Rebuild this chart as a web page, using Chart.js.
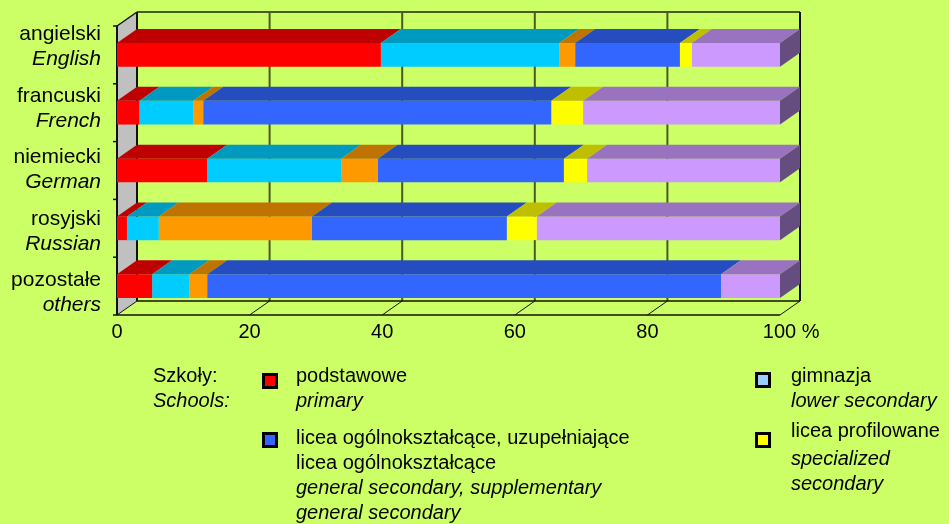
<!DOCTYPE html>
<html>
<head>
<meta charset="utf-8">
<script src="https://cdn.jsdelivr.net/npm/chart.js@4/dist/chart.umd.min.js"></script>
<style>
  html, body { margin: 0; padding: 0; background: #CCFF66; }
  #wrap { position: relative; width: 949px; height: 524px; }
</style>
</head>
<body>
<div id="wrap"><canvas id="langChart"></canvas></div>
<script>
// Languages (Polish / English)
const categoriesPl = ['angielski', 'francuski', 'niemiecki', 'rosyjski', 'pozostałe'];
const categoriesEn = ['English', 'French', 'German', 'Russian', 'others'];

// Share of pupils by school type, %
const primary = [39.8, 3.4, 13.6, 1.5, 5.3];
const lowerSecondary = [26.9, 8.1, 20.2, 4.8, 5.6];
const basicVocational = [2.4, 1.5, 5.5, 23.1, 2.7];
const generalSecondary = [15.8, 52.5, 28.1, 29.4, 77.5];
const specializedSecondary = [1.8, 4.8, 3.5, 4.5, 0];
const vocationalSecondary = [13.3, 29.7, 29.1, 36.7, 8.9];

const xTicks = [0, 20, 40, 60, 80, 100];

const FONT = '"Liberation Sans", Arial, sans-serif';
const DX = 20, DY = 14; // depth of the 3D box

function shade(hex, f) {
    const n = parseInt(hex.slice(1), 16);
    const r = Math.round(((n >> 16) & 255) * f);
    const g = Math.round(((n >> 8) & 255) * f);
    const b = Math.round((n & 255) * f);
    return `rgb(${r},${g},${b})`;
}

function line(ctx, x1, y1, x2, y2, color, w) {
    ctx.beginPath();
    ctx.moveTo(x1, y1);
    ctx.lineTo(x2, y2);
    ctx.strokeStyle = color;
    ctx.lineWidth = w;
    ctx.stroke();
}

const threeD = {
    id: 'threeD',
    beforeDatasetsDraw(chart) {
        const { ctx, chartArea: a, scales: { x, y } } = chart;
        const L = a.left, R = a.right, T = a.top, B = a.bottom;
        ctx.save();
        // left wall
        ctx.beginPath();
        ctx.moveTo(L, T);
        ctx.lineTo(L + DX, T - DY);
        ctx.lineTo(L + DX, B - DY);
        ctx.lineTo(L, B);
        ctx.closePath();
        ctx.fillStyle = '#C0C0C0';
        ctx.fill();
        // back wall grid
        xTicks.forEach(v => {
            if (v === 0 || v === 100) return;
            const px = x.getPixelForValue(v) + DX;
            line(ctx, px, T - DY, px, B - DY, '#4a5a22', 2);
        });
        line(ctx, L + DX, T - DY, R + DX, T - DY, '#4a5a22', 2);
        line(ctx, R + DX, T - DY, R + DX, B - DY, '#111', 2);
        line(ctx, L + DX, B - DY, R + DX, B - DY, '#111', 1.5);
        // floor
        xTicks.forEach(v => {
            const px = x.getPixelForValue(v);
            line(ctx, px, B, px + DX, B - DY, '#111', 1);
        });
        line(ctx, L, B, R, B, '#111', 1.5);
        // wall edges
        line(ctx, L, T, L, B, '#111', 2);
        line(ctx, L + DX, T - DY, L + DX, B - DY, '#111', 2);
        line(ctx, L, T, L + DX, T - DY, '#111', 1.5);
        // category ticks
        for (let i = 0; i <= categoriesPl.length; i++) {
            const py = y.getPixelForValue(i - 0.5);
            line(ctx, L - 4, py, L, py, '#111', 1.5);
        }
        ctx.restore();
    },
    afterDatasetsDraw(chart) {
        const { ctx, chartArea: a } = chart;
        ctx.save();
        chart.data.datasets.forEach((ds, d) => {
            const meta = chart.getDatasetMeta(d);
            meta.data.forEach(el => {
                const x0 = Math.min(el.base, el.x), x1 = Math.max(el.base, el.x);
                if (x1 - x0 < 0.5) return;
                const top = el.y - el.height / 2, bot = el.y + el.height / 2;
                // top face
                ctx.beginPath();
                ctx.moveTo(x0, top);
                ctx.lineTo(x1, top);
                ctx.lineTo(x1 + DX, top - DY);
                ctx.lineTo(x0 + DX, top - DY);
                ctx.closePath();
                ctx.fillStyle = shade(ds.backgroundColor, 0.75);
                ctx.fill();
                // side face at the end of the stack
                if (Math.abs(x1 - a.right) < 1) {
                    ctx.beginPath();
                    ctx.moveTo(x1, top);
                    ctx.lineTo(x1 + DX, top - DY);
                    ctx.lineTo(x1 + DX, bot - DY);
                    ctx.lineTo(x1, bot);
                    ctx.closePath();
                    ctx.fillStyle = shade(ds.backgroundColor, 0.5);
                    ctx.fill();
                }
            });
        });
        ctx.restore();
    },
    afterDraw(chart) {
        const { ctx, chartArea: a, scales: { y } } = chart;
        ctx.save();
        ctx.fillStyle = '#000';
        // category labels, two lines each
        ctx.textAlign = 'right';
        ctx.textBaseline = 'alphabetic';
        categoriesPl.forEach((pl, i) => {
            const c = y.getPixelForValue(i);
            const y1 = c - 14.5 + 3.7 * i;
            ctx.font = `21px ${FONT}`;
            ctx.fillText(pl, a.left - 16, y1);
            ctx.font = `italic 21px ${FONT}`;
            ctx.fillText(categoriesEn[i], a.left - 16, y1 + 25);
        });

        // legend
        ctx.textAlign = 'left';
        const text = (s, x, yy, it) => {
            ctx.font = `${it ? 'italic ' : ''}20px ${FONT}`;
            ctx.fillStyle = '#000';
            ctx.fillText(s, x, yy);
        };
        const box = (x, yy, color) => {
            ctx.fillStyle = '#000';
            ctx.fillRect(x, yy, 16, 16);
            ctx.fillStyle = color;
            ctx.fillRect(x + 3, yy + 3, 10, 10);
        };
        text('Szkoły:', 153, 382, false);
        text('Schools:', 153, 407, true);

        box(262, 373, '#FF0000');
        text('podstawowe', 296, 382, false);
        text('primary', 296, 407, true);

        box(262, 432, '#3366FF');
        text('licea ogólnokształcące, uzupełniające', 296, 444, false);
        text('licea ogólnokształcące', 296, 469, false);
        text('general secondary, supplementary', 296, 494, true);
        text('general secondary', 296, 519, true);

        box(755, 372, '#99CCFF');
        text('gimnazja', 791, 382, false);
        text('lower secondary', 791, 407, true);

        box(755, 432, '#FFFF00');
        text('licea profilowane', 791, 437, false);
        text('specialized', 791, 465, true);
        text('secondary', 791, 490, true);
        ctx.restore();
    }
};

const seriesNames = ['podstawowe', 'gimnazja', 'zasadnicze zawodowe',
    'licea ogólnokształcące', 'licea profilowane', 'technika'];
const seriesData = [primary, lowerSecondary, basicVocational,
    generalSecondary, specializedSecondary, vocationalSecondary];
const seriesColors = ['#FF0000', '#00CCFF', '#FF9900', '#3366FF', '#FFFF00', '#CC99FF'];

new Chart(document.getElementById('langChart'), {
    type: 'bar',
    data: {
        labels: categoriesPl,
        datasets: seriesData.map((d, i) => ({
            label: seriesNames[i],
            data: d,
            backgroundColor: seriesColors[i],
            borderWidth: 0,
            barPercentage: 0.41,
            categoryPercentage: 1
        }))
    },
    options: {
        indexAxis: 'y',
        responsive: true,
        maintainAspectRatio: false,
        animation: false,
        layout: { padding: { left: 117, right: 169, top: 26, bottom: 0 } },
        plugins: { legend: { display: false }, tooltip: { enabled: false } },
        scales: {
            x: {
                stacked: true,
                min: 0,
                max: 100,
                afterBuildTicks: s => { s.ticks = xTicks.map(v => ({ value: v })); },
                afterFit: s => { s.height = 524 - 315; },
                grid: { display: false, drawTicks: false },
                border: { display: false },
                ticks: {
                    padding: 5,
                    color: '#000',
                    font: { family: FONT, size: 20 },
                    maxRotation: 0,
                    callback: v => v === 100 ? '    100 %' : String(v)
                }
            },
            y: {
                stacked: true,
                display: false
            }
        }
    },
    plugins: [threeD]
});
</script>
</body>
</html>
